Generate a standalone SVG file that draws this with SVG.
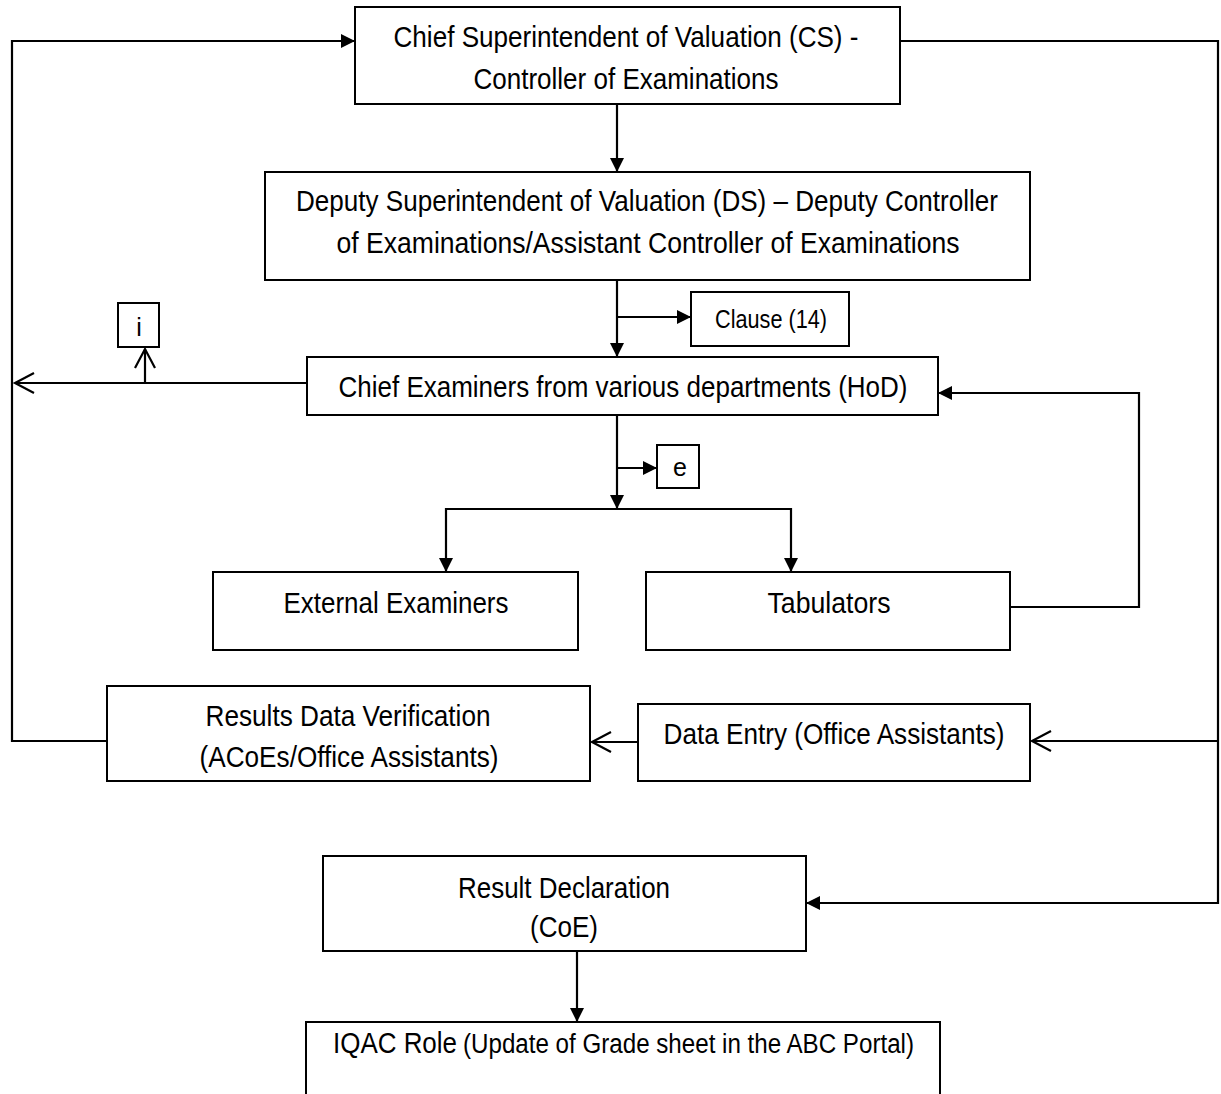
<svg xmlns="http://www.w3.org/2000/svg" width="1221" height="1094" viewBox="0 0 1221 1094">
<style>
  .box { fill: #ffffff; stroke: #000000; stroke-width: 2; }
  .t { font-family: "Liberation Sans", Arial, sans-serif; font-size: 30px; fill: #000000; text-anchor: middle; }
  .s { font-family: "Liberation Sans", Arial, sans-serif; font-size: 25px; fill: #000000; text-anchor: middle; }
  .p { font-family: "Liberation Sans", Arial, sans-serif; font-size: 27px; fill: #000000; }
  .c { fill: none; stroke: #000000; stroke-width: 2.2; }
  .f { marker-end: url(#fill); }
  .o { marker-end: url(#open); }
</style>
<defs>
  <marker id="fill" markerUnits="userSpaceOnUse" viewBox="0 0 14 14" refX="14" refY="7" markerWidth="14" markerHeight="14" orient="auto">
    <path d="M0,0 L14,7 L0,14 z" fill="#000000"/>
  </marker>
  <marker id="open" markerUnits="userSpaceOnUse" viewBox="-2 -2 24 24" refX="19" refY="10" markerWidth="24" markerHeight="24" orient="auto">
    <path d="M0,0 L19,10 L0,20" fill="none" stroke="#000000" stroke-width="2.2"/>
  </marker>
</defs>

<g id="connectors">
  <path class="c f" d="M107,741 H12 V41 H355"/>
  <path class="c f" d="M617,104 V172"/>
  <path class="c f" d="M900,41 H1218 V903 H806"/>
  <path class="c o" d="M1218,741 H1032"/>
  <path class="c f" d="M617,280 V357"/>
  <path class="c f" d="M617,317 H691"/>
  <path class="c o" d="M307,383 H15"/>
  <path class="c o" d="M145,383 V349"/>
  <path class="c f" d="M617,415 V509"/>
  <path class="c f" d="M617,468 H657"/>
  <path class="c f" d="M617,509 H446 V572"/>
  <path class="c f" d="M617,509 H791 V572"/>
  <path class="c f" d="M1010,607 H1139 V393 H938"/>
  <path class="c o" d="M638,742 H592"/>
  <path class="c f" d="M577,951 V1022"/>
</g>

<g id="node-cs">
  <rect class="box" x="355" y="7" width="545" height="97"/>
  <text class="t" x="626" y="47" textLength="465" lengthAdjust="spacingAndGlyphs">Chief Superintendent of Valuation (CS) -</text>
  <text class="t" x="626" y="89" textLength="305" lengthAdjust="spacingAndGlyphs">Controller of Examinations</text>
</g>

<g id="node-ds">
  <rect class="box" x="265" y="172" width="765" height="108"/>
  <text class="t" x="647" y="211" textLength="702" lengthAdjust="spacingAndGlyphs">Deputy Superintendent of Valuation (DS) – Deputy Controller</text>
  <text class="t" x="648" y="253" textLength="623" lengthAdjust="spacingAndGlyphs">of Examinations/Assistant Controller of Examinations</text>
</g>

<g id="node-clause">
  <rect class="box" x="691" y="292" width="158" height="54"/>
  <text class="s" x="771" y="328" textLength="112" lengthAdjust="spacingAndGlyphs">Clause (14)</text>
</g>

<g id="node-i">
  <rect class="box" x="118" y="303" width="41" height="44"/>
  <text class="s" x="139" y="336">i</text>
</g>

<g id="node-chief">
  <rect class="box" x="307" y="357" width="631" height="58"/>
  <text class="t" x="623" y="397" textLength="569" lengthAdjust="spacingAndGlyphs">Chief Examiners from various departments (HoD)</text>
</g>

<g id="node-e">
  <rect class="box" x="657" y="445" width="42" height="43"/>
  <text class="s" x="680" y="476">e</text>
</g>

<g id="node-external">
  <rect class="box" x="213" y="572" width="365" height="78"/>
  <text class="t" x="396" y="613" textLength="225" lengthAdjust="spacingAndGlyphs">External Examiners</text>
</g>

<g id="node-tabulators">
  <rect class="box" x="646" y="572" width="364" height="78"/>
  <text class="t" x="829" y="613" textLength="123" lengthAdjust="spacingAndGlyphs">Tabulators</text>
</g>

<g id="node-rdv">
  <rect class="box" x="107" y="686" width="483" height="95"/>
  <text class="t" x="348" y="726" textLength="285" lengthAdjust="spacingAndGlyphs">Results Data Verification</text>
  <text class="t" x="349" y="767" textLength="299" lengthAdjust="spacingAndGlyphs">(ACoEs/Office Assistants)</text>
</g>

<g id="node-dataentry">
  <rect class="box" x="638" y="704" width="392" height="77"/>
  <text class="t" x="834" y="744" textLength="341" lengthAdjust="spacingAndGlyphs">Data Entry (Office Assistants)</text>
</g>

<g id="node-result">
  <rect class="box" x="323" y="856" width="483" height="95"/>
  <text class="t" x="564" y="898" textLength="212" lengthAdjust="spacingAndGlyphs">Result Declaration</text>
  <text class="t" x="564" y="937" textLength="68" lengthAdjust="spacingAndGlyphs">(CoE)</text>
</g>

<g id="node-iqac">
  <rect class="box" x="306" y="1022" width="634" height="90"/>
  <text class="t" x="333" y="1053" style="text-anchor:start" textLength="124" lengthAdjust="spacingAndGlyphs">IQAC Role</text>
  <text class="p" x="463" y="1053" textLength="451" lengthAdjust="spacingAndGlyphs">(Update of Grade sheet in the ABC Portal)</text>
</g>
</svg>
